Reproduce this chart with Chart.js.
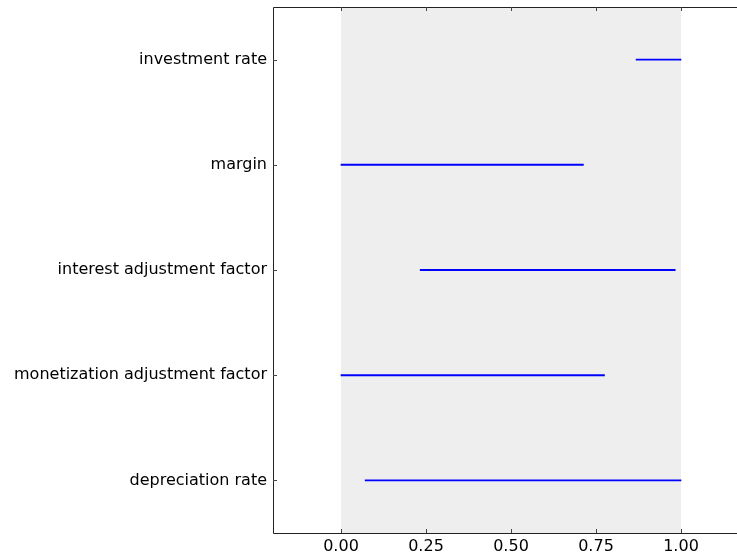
<!DOCTYPE html>
<html>
<head>
<meta charset="utf-8">
<script src="https://cdn.jsdelivr.net/npm/chart.js@4/dist/chart.umd.min.js"></script>
<style>
  html, body { margin: 0; padding: 0; background: #ffffff; overflow: hidden; }
  #wrap { width: 760px; height: 552px; position: relative; }
</style>
</head>
<body>
<div id="wrap"><canvas id="c" width="760" height="552"></canvas></div>
<script>
// Parameter names, top to bottom
const parameters = [
  "investment rate",
  "margin",
  "interest adjustment factor",
  "monetization adjustment factor",
  "depreciation rate"
];
// Lower and upper end of each parameter's range
const rangeLow  = [0.868, 0.0,   0.233, 0.0,   0.071];
const rangeHigh = [1.0,   0.713, 0.983, 0.775, 1.0];
// Shaded reference interval and x tick values
const bandInterval = [0, 1];
const xTickValues = [0, 0.25, 0.5, 0.75, 1.0];

const FONT = "'DejaVu Sans', sans-serif";

const framePlugin = {
  id: 'frame',
  beforeDatasetsDraw(chart) {
    const { ctx, chartArea: a, scales: { x } } = chart;
    const x0 = x.getPixelForValue(bandInterval[0]);
    const x1 = x.getPixelForValue(bandInterval[1]);
    ctx.save();
    ctx.fillStyle = '#eeeeee';
    ctx.fillRect(x0, a.top, x1 - x0, a.bottom - a.top);
    ctx.restore();
  },
  afterDraw(chart) {
    const { ctx, chartArea: a, scales: { x, y } } = chart;
    ctx.save();
    ctx.strokeStyle = '#222';
    ctx.lineWidth = 1;
    ctx.beginPath();
    ctx.rect(Math.round(a.left) + 0.5, Math.round(a.top) + 0.5,
             Math.round(a.right - a.left), Math.round(a.bottom - a.top));
    ctx.stroke();
    // inward tick marks
    ctx.strokeStyle = '#444';
    ctx.beginPath();
    xTickValues.forEach(v => {
      const px = Math.round(x.getPixelForValue(v)) + 0.5;
      ctx.moveTo(px, a.bottom); ctx.lineTo(px, a.bottom - 4);
      ctx.moveTo(px, a.top); ctx.lineTo(px, a.top + 4);
    });
    parameters.forEach((p, i) => {
      const py = Math.round(y.getPixelForValue(i)) + 0.5;
      ctx.moveTo(a.left, py); ctx.lineTo(a.left + 4, py);
      ctx.moveTo(a.right, py); ctx.lineTo(a.right - 4, py);
    });
    ctx.stroke();
    ctx.restore();
  }
};

new Chart(document.getElementById('c'), {
  type: 'bar',
  data: {
    labels: parameters,
    datasets: [{
      data: parameters.map((p, i) => [rangeLow[i], rangeHigh[i]]),
      backgroundColor: '#0000ff',
      borderWidth: 0,
      barThickness: 1.2
    }]
  },
  plugins: [framePlugin],
  options: {
    indexAxis: 'y',
    responsive: false,
    animation: false,
    devicePixelRatio: 1,
    layout: { padding: { top: 7, right: 11, bottom: 0, left: 0 } },
    plugins: { legend: { display: false }, tooltip: { enabled: false } },
    scales: {
      x: {
        type: 'linear',
        min: -0.2,
        max: 1.2,
        afterBuildTicks(scale) { scale.ticks = xTickValues.map(v => ({ value: v })); },
        afterFit(scale) {
          scale.height = 19;
          scale.paddingLeft = 0; scale.paddingRight = 0;
        },
        grid: { display: false, drawTicks: false },
        border: { display: false },
        ticks: {
          padding: 4,
          maxRotation: 0,
          minRotation: 0,
          color: '#000',
          font: { family: FONT, size: 16 },
          callback: v => Number(v).toFixed(2)
        }
      },
      y: {
        type: 'category',
        offset: true,
        afterFit(scale) {
          scale.width = 273;
          scale.paddingTop = 0; scale.paddingBottom = 0;
        },
        grid: { display: false, drawTicks: false },
        border: { display: false },
        ticks: {
          padding: 6,
          color: '#000',
          font: { family: FONT, size: 16 }
        }
      }
    }
  }
});
</script>
</body>
</html>
